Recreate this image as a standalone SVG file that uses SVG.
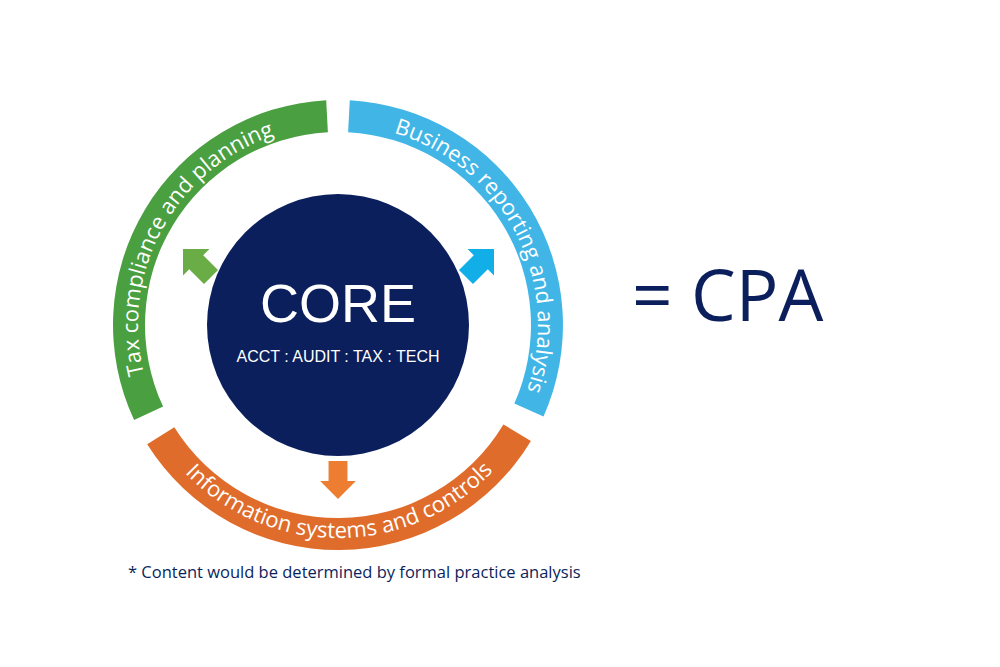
<svg xmlns="http://www.w3.org/2000/svg" xmlns:xlink="http://www.w3.org/1999/xlink" width="1000" height="667" viewBox="0 0 1000 667">
<style>
.ring{stroke:none}
.rt{font-family:"Open Sans","Liberation Sans",sans-serif;font-size:22px;fill:#fff}
.navy{fill:#0b1f5c}
</style>
<defs>
<path id="arw" d="M-9,-18 H9 V1 H17 L0,18 L-17,1 H-9 Z"/>
<path id="pg" d="M156.7,409.5 A200 200 0 0 1 327.5,125.3" fill="none"/>
<path id="pb" d="M348.5,125.3 A200 200 0 0 1 520.7,406.3" fill="none"/>
<path id="po" d="M157.4,437.9 A213 213 0 0 0 520.6,434.7" fill="none"/>
</defs>
<rect width="1000" height="667" fill="#fff"/>
<g id="green">
<path class="ring" fill="#4aa040" d="M134.1,420.1 A225 225 0 0 1 326.2,100.3 L327.9,132.3 A193 193 0 0 0 163.1,406.6 Z"/>
<text class="rt"><textPath xlink:href="#pg" href="#pg" startOffset="187" text-anchor="middle">Tax compliance and planning</textPath></text>
</g>
<g id="blue">
<path class="ring" fill="#41b6e6" d="M349.8,100.3 A225 225 0 0 1 543.5,416.5 L514.3,403.5 A193 193 0 0 0 348.1,132.3 Z"/>
<text class="rt"><textPath xlink:href="#pb" href="#pb" startOffset="208" text-anchor="middle">Business reporting and analysis</textPath></text>
</g>
<g id="orange">
<path class="ring" fill="#e06c2c" d="M147.2,444.2 A225 225 0 0 0 530.9,440.9 L503.4,424.4 A193 193 0 0 1 174.3,427.3 Z"/>
<text class="rt"><textPath xlink:href="#po" href="#po" startOffset="217" text-anchor="middle">Information systems and controls</textPath></text>
</g>
<g id="connectors">
<use href="#arw" xlink:href="#arw" fill="#6aad46" transform="translate(197,263) rotate(135) scale(1.1)"/>
<use href="#arw" xlink:href="#arw" fill="#12aee8" transform="translate(480,263) rotate(-135) scale(1.1)"/>
<use href="#arw" xlink:href="#arw" fill="#ed7d31" transform="translate(338,480) scale(1.05)"/>
</g>
<g id="core">
<circle cx="338" cy="325" r="131" fill="#0b1f5c"/>
<text x="338" y="322" text-anchor="middle" font-family="Liberation Sans,Arial,sans-serif" font-size="54" fill="#fff">CORE</text>
<text x="338" y="362" text-anchor="middle" font-family="Liberation Sans,Arial,sans-serif" font-size="16" fill="#fff">ACCT : AUDIT : TAX : TECH</text>
</g>
<g id="cpa">
<text x="632" y="321" class="navy" font-family="Open Sans,Liberation Sans,sans-serif" font-size="71">= CPA</text>
</g>
<g id="note">
<text x="128" y="578" class="navy" font-family="Open Sans,Liberation Sans,sans-serif" font-size="16.5">* Content would be determined by formal practice analysis</text>
</g>
</svg>
